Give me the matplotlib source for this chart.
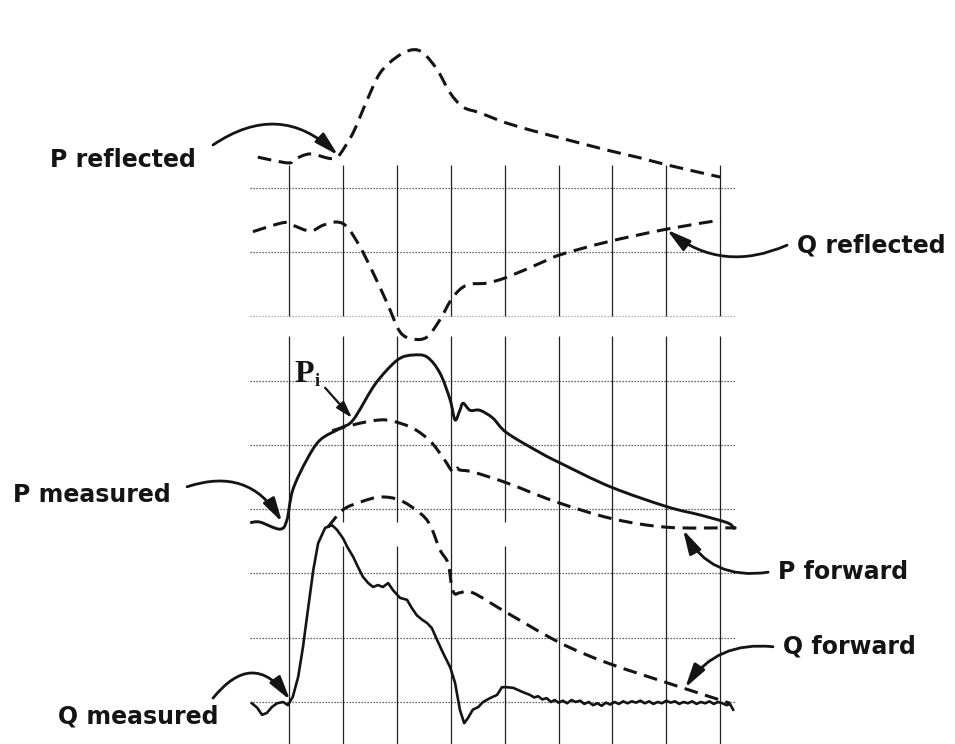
import matplotlib
matplotlib.use("Agg")
import matplotlib.pyplot as plt
from matplotlib.path import Path
from matplotlib.patches import PathPatch

# Time axis in grid divisions, amplitude in grid divisions
grid_x = [0, 1, 2, 3, 4, 5, 6, 7, 8]
grid_y = [0, 1, 2, 3, 4, 5, 6, 7, 8]

p_reflected_t = [-0.58, -0.02, 0.11, 0.39, 0.75, 0.88, 0.95, 1.19, 1.45, 1.69, 2.00, 2.28, 2.49,
                 2.75, 2.99, 3.23, 3.54, 4.04, 4.66, 5.03, 5.90, 6.51, 7.01, 8.00]
p_reflected_v = [8.48, 8.39, 8.45, 8.53, 8.46, 8.48, 8.53, 8.86, 9.37, 9.79, 10.04, 10.15, 10.10,
                 9.84, 9.48, 9.26, 9.17, 9.01, 8.86, 8.78, 8.59, 8.47, 8.36, 8.17]

q_reflected_t = [-0.67, -0.11, 0.07, 0.39, 0.63, 0.89, 1.08, 1.32, 1.56, 1.82, 2.06, 2.30, 2.56,
                 2.80, 3.04, 3.30, 3.67, 4.04, 4.66, 5.03, 5.90, 7.01, 8.00]
q_reflected_v = [7.32, 7.46, 7.42, 7.33, 7.42, 7.47, 7.39, 7.08, 6.68, 6.21, 5.76, 5.65, 5.68,
                 5.95, 6.30, 6.49, 6.52, 6.61, 6.83, 6.96, 7.16, 7.36, 7.50]

p_measured_t = [-0.72, -0.54, -0.17, -0.04, 0.07, 0.33, 0.58, 0.95, 1.19, 1.56, 1.82, 2.06, 2.30,
                2.56, 2.80, 2.99, 3.08, 3.17, 3.23, 3.36, 3.54, 3.78, 4.04, 4.66, 5.03, 5.96,
                7.01, 7.63, 8.13, 8.24]
p_measured_v = [2.79, 2.80, 2.69, 2.83, 3.30, 3.77, 4.08, 4.26, 4.39, 4.90, 5.17, 5.35, 5.40,
                5.37, 5.12, 4.70, 4.39, 4.54, 4.65, 4.54, 4.54, 4.42, 4.19, 3.88, 3.72, 3.35,
                3.04, 2.91, 2.79, 2.72]

p_forward_t = [0.80, 0.95, 1.32, 1.69, 1.93, 2.30, 2.62, 2.86, 3.04, 3.12, 3.17, 3.41, 4.04,
               4.97, 6.01, 7.01, 8.13, 8.24]
p_forward_v = [4.22, 4.26, 4.34, 4.39, 4.37, 4.26, 4.06, 3.80, 3.58, 3.64, 3.61, 3.58, 3.41,
               3.11, 2.85, 2.72, 2.71, 2.71]

q_measured_t = [-0.69, -0.59, -0.50, -0.41, -0.32, -0.22, -0.11, -0.02, 0.07, 0.17, 0.26, 0.35,
                0.45, 0.54, 0.67, 0.80, 0.89, 1.00, 1.09, 1.19, 1.28, 1.37, 1.47, 1.56, 1.65,
                1.74, 1.84, 1.93, 2.06, 2.19, 2.28, 2.37, 2.47, 2.56, 2.65, 2.75, 2.86, 2.99,
                3.08, 3.17, 3.25, 3.32, 3.41, 3.51, 3.60, 3.73, 3.86, 3.95, 4.04, 4.16, 4.32,
                4.47, 4.55, 4.62, 4.70, 4.78, 4.86, 4.93, 5.00, 5.08, 5.16, 5.24, 5.32, 5.40,
                5.48, 5.56, 5.64, 5.72, 5.80, 5.88, 5.96, 6.04, 6.12, 6.20, 6.28, 6.36, 6.44,
                6.52, 6.60, 6.68, 6.76, 6.84, 6.92, 7.00, 7.08, 7.16, 7.24, 7.32, 7.40, 7.48,
                7.56, 7.64, 7.72, 7.80, 7.88, 7.96, 8.04, 8.12, 8.18, 8.24]
q_measured_v = [-0.02, -0.09, -0.20, -0.17, -0.08, -0.02, 0.00, -0.05, 0.08, 0.39, 0.86, 1.43,
                2.05, 2.47, 2.71, 2.75, 2.68, 2.55, 2.40, 2.26, 2.10, 1.95, 1.85, 1.79, 1.82,
                1.79, 1.85, 1.74, 1.62, 1.59, 1.46, 1.35, 1.28, 1.23, 1.15, 0.96, 0.76, 0.54,
                0.30, -0.12, -0.33, -0.25, -0.12, -0.08, 0.00, 0.06, 0.11, 0.23, 0.23, 0.22, 0.16,
                0.11, 0.07, 0.09, 0.04, 0.06, 0.00, 0.03, -0.01, 0.02, -0.02, 0.03, 0.00, 0.02,
                -0.03, 0.00, -0.05, -0.02, -0.06, -0.01, -0.04, 0.00, -0.03, 0.01, -0.02, 0.01, -0.01,
                0.02, -0.02, 0.01, -0.03, 0.00, -0.02, 0.02, -0.01, 0.01, -0.03, 0.00, -0.02, 0.01,
                -0.03, 0.00, -0.02, 0.01, -0.03, 0.00, -0.02, -0.05, -0.03, -0.12]

q_forward_t = [0.72, 1.00, 1.32, 1.69, 2.06, 2.43, 2.62, 2.80, 2.95, 3.02, 3.08, 3.17, 3.41,
               4.04, 5.03, 5.90, 7.01, 8.00, 8.18]
q_forward_v = [2.72, 2.99, 3.11, 3.19, 3.14, 2.94, 2.75, 2.37, 2.16, 1.79, 1.68, 1.70, 1.70,
               1.39, 0.92, 0.61, 0.30, 0.03, -0.02]

# Label text, anchor (left, centre) and arrow (start, tip, curvature)
labels = ["P reflected", "Q reflected", "P measured", "P forward", "Q forward", "Q measured"]
label_pos = [(-4.43, 8.44), (9.42, 7.11), (-5.12, 3.22), (9.07, 2.02), (9.17, 0.86), (-4.29, -0.23)]
arrow_start = [(-1.41, 8.67), (9.24, 7.11), (-1.89, 3.35), (8.89, 2.02), (8.98, 0.86), (-1.41, 0.06)]
arrow_tip = [(0.91, 8.51), (7.01, 7.35), (-0.13, 2.80), (7.31, 2.68), (7.35, 0.22), (0.02, 0.03)]
arrow_rad = [-0.40, -0.30, -0.40, -0.35, 0.30, -0.65]

INK = "#141414"
DASH = (0, (4.5, 2.5))


def smooth_trace(ax, xs, ys, **style):
    """Draw a pen trace through the points as a Catmull-Rom curve."""
    pts = list(zip(xs, ys))
    verts = [pts[0]]
    codes = [Path.MOVETO]
    n = len(pts)
    for i in range(n - 1):
        p0 = pts[i - 1] if i > 0 else pts[i]
        p1 = pts[i]
        p2 = pts[i + 1]
        p3 = pts[i + 2] if i + 2 < n else pts[i + 1]
        c1 = (p1[0] + (p2[0] - p0[0]) / 6.0, p1[1] + (p2[1] - p0[1]) / 6.0)
        c2 = (p2[0] - (p3[0] - p1[0]) / 6.0, p2[1] - (p3[1] - p1[1]) / 6.0)
        verts += [c1, c2, p2]
        codes += [Path.CURVE4] * 3
    patch = PathPatch(Path(verts, codes), facecolor="none", edgecolor=INK,
                      capstyle="butt", joinstyle="round", zorder=3, **style)
    ax.add_patch(patch)


fig = plt.figure(figsize=(9.55, 7.44), dpi=100)
ax = fig.add_axes([0, 0, 1, 1])
ax.set_xlim(-5.362, 12.356)
ax.set_ylim(-0.654, 10.926)
ax.axis("off")

# Recorder paper grid: dotted horizontals, solid verticals with breaks
for gy in grid_y:
    right = 7.82 if gy == 7 else 8.3
    ax.hlines(gy, -0.72, right, colors="#3a3a3a" if gy != 6 else "#9a9a9a",
              linestyles=(0, (1, 1.4)), linewidth=0.9, zorder=1)
for gx in grid_x:
    segments = [(8.36, 6.00), (5.70, -0.7)]
    if gx in (1, 2, 4):
        segments = [(8.36, 6.00), (5.70, 2.80), (2.42, -0.7)]
    for top, bottom in segments:
        ax.vlines(gx, bottom, top, colors="#222222", linewidth=0.9, zorder=1)

# Traces
smooth_trace(ax, p_reflected_t, p_reflected_v, lw=2.2, linestyle=DASH)
smooth_trace(ax, q_reflected_t, q_reflected_v, lw=2.2, linestyle=DASH)
smooth_trace(ax, p_measured_t, p_measured_v, lw=2.1)
smooth_trace(ax, p_forward_t, p_forward_v, lw=2.2, linestyle=DASH)
ax.plot(q_measured_t, q_measured_v, color=INK, lw=1.9, zorder=3, solid_joinstyle="round")
smooth_trace(ax, q_forward_t, q_forward_v, lw=2.2, linestyle=DASH)

# Labels with curved pointers
for text, pos, start, tip, rad in zip(labels, label_pos, arrow_start, arrow_tip, arrow_rad):
    ax.text(pos[0], pos[1], text, ha="left", va="center", fontsize=17,
            fontweight="bold", family="DejaVu Sans", color=INK, zorder=4)
    ax.annotate("", xy=tip, xytext=start,
                arrowprops=dict(arrowstyle="-|>,head_length=1.2,head_width=0.32",
                                connectionstyle=f"arc3,rad={rad}", lw=2.0, color=INK,
                                shrinkA=0, shrinkB=0, mutation_scale=12),
                zorder=4)

# Incident pressure marker
ax.text(0.10, 4.98, "P", ha="left", va="baseline", fontsize=23, fontweight="bold",
        family="Liberation Serif", color=INK, zorder=4)
ax.text(0.47, 4.92, "i", ha="left", va="baseline", fontsize=13, fontweight="bold",
        family="Liberation Serif", color=INK, zorder=4)
ax.annotate("", xy=(1.17, 4.42), xytext=(0.67, 4.89),
            arrowprops=dict(arrowstyle="-|>,head_length=1.0,head_width=0.3", lw=1.6,
                            color=INK, shrinkA=0, shrinkB=0, mutation_scale=10),
            zorder=4)

fig.savefig("out.png", dpi=100, facecolor="white")
